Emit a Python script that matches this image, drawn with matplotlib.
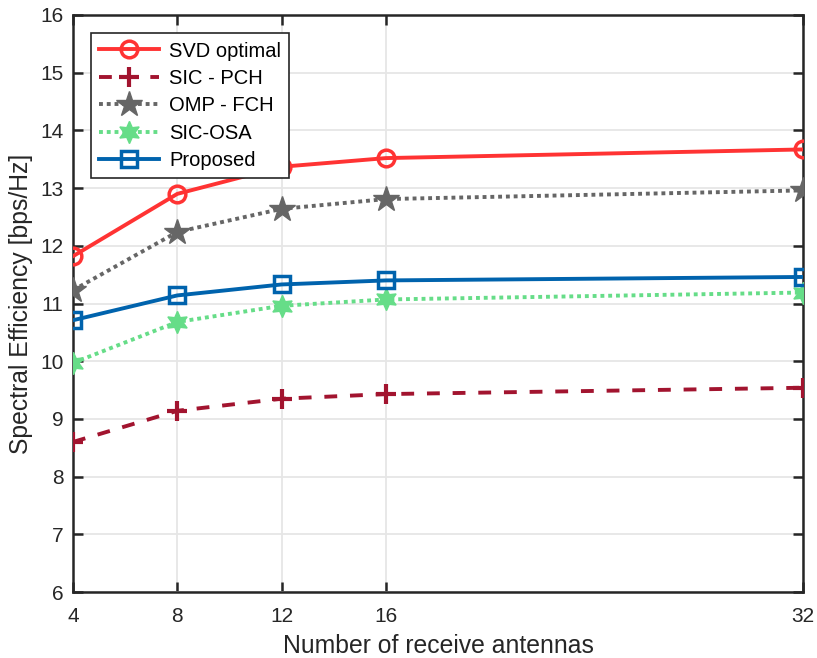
import matplotlib
matplotlib.use("Agg")
import matplotlib.pyplot as plt

plt.rcParams['font.family'] = ['Liberation Sans', 'DejaVu Sans']

# data
antennas = [4, 8, 12, 16, 32]
svd_optimal = [11.82, 12.90, 13.37, 13.52, 13.67]
sic_pch = [8.60, 9.14, 9.35, 9.43, 9.54]
omp_fch = [11.23, 12.24, 12.64, 12.81, 12.96]
sic_osa = [9.97, 10.68, 10.96, 11.07, 11.19]
proposed = [10.71, 11.14, 11.33, 11.40, 11.46]

fig = plt.figure(figsize=(8.17, 6.58), dpi=100)
ax = fig.add_axes([73/817, 1-592/658, (803-73)/817, (592-15)/658])

lw = 2.8
ax.plot(antennas, svd_optimal, color='#FF3333', lw=lw, marker='o', ms=12,
        mfc='none', mew=2.5, label='SVD optimal', zorder=5)
ax.plot(antennas, sic_pch, color='#A2142F', lw=lw, ls=(0, (3.3, 3.3)), marker='+',
        ms=14, mew=3, label='SIC - PCH', zorder=4)
ax.plot(antennas, omp_fch, color='#666666', lw=lw, ls=(0, (1, 1)), marker='*',
        ms=19, label='OMP - FCH', zorder=4)
ax.plot(antennas, sic_osa, color='#66DD88', lw=lw, ls=(0, (1, 1)), marker=(6, 1, 0),
        ms=16, label='SIC-OSA', zorder=4)
ax.plot(antennas, proposed, color='#0063AD', lw=lw, marker='s', ms=11,
        mfc='none', mew=2.5, label='Proposed', zorder=4)

ax.set_xlim(4, 32)
ax.set_ylim(6, 16)
ax.set_xticks(antennas)
ax.set_yticks(range(6, 17))
ax.grid(True, color='#e6e6e6', lw=1.3)
ax.set_axisbelow(True)
for s in ax.spines.values():
    s.set_linewidth(1.8)
    s.set_color('#262626')
ax.tick_params(direction='in', length=7, width=1.8, color='#262626',
               labelsize=15, top=True, right=True, pad=7)
ax.tick_params(axis='x', pad=10.5)
for lab in ax.get_xticklabels() + ax.get_yticklabels():
    lab.set_color('#262626')

ax.set_xlabel('Number of receive antennas', fontsize=17.8, color='#262626', labelpad=6)
ax.set_ylabel('Spectral Efficiency [bps/Hz]', fontsize=17.8, color='#262626', labelpad=5)

leg = ax.legend(loc='upper left', bbox_to_anchor=(0.0245, 0.968), fontsize=14.5,
                fancybox=False, framealpha=1, edgecolor='#262626',
                handlelength=3.0, borderpad=0.4, labelspacing=0.42,
                handletextpad=0.5, borderaxespad=0)
leg.get_frame().set_linewidth(1.2)
leg.set_zorder(10)

fig.savefig('out.png', dpi=100)
